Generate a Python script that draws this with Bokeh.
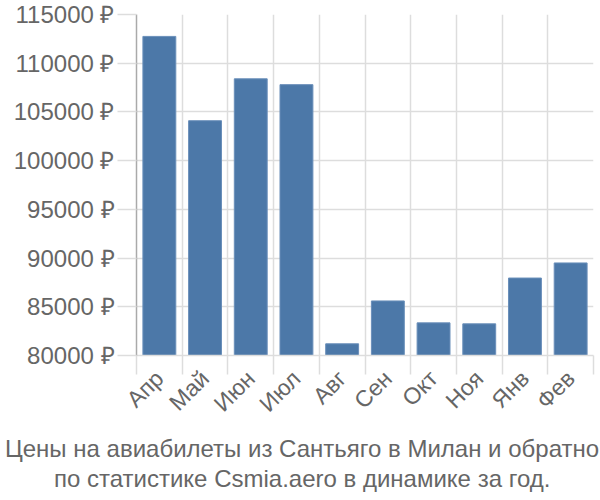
import math
from bokeh.plotting import figure
from bokeh.models import Range1d, FixedTicker, ColumnDataSource, Title
from bokeh.embed import file_html
from bokeh.resources import INLINE

months = ["Апр", "Май", "Июн", "Июл", "Авг", "Сен", "Окт", "Ноя", "Янв", "Фев"]
prices = [112750, 104100, 108400, 107800, 81200, 85600, 83350, 83250, 87950, 89500]
y_ticks = [80000, 85000, 90000, 95000, 100000, 105000, 110000, 115000]
title_lines = ["Цены на авиабилеты из Сантьяго в Милан и обратно",
               "по статистике Csmia.aero в динамике за год."]
# approximate rendered widths (px) of the title lines, used to centre them
title_widths = [591, 493]

FONT = "Liberation Sans"
TXT = "#666666"
GRID = "#dddddd"

W, H = 600, 500
LEFT, RIGHT = 136, 7

n = len(months)
centers = [i + 0.5 for i in range(n)]
bounds = list(range(n + 1))

src = ColumnDataSource(dict(x=centers, top=prices, m=months))

p = figure(width=W, height=H, output_backend="svg", toolbar_location=None,
           x_range=Range1d(0, n), y_range=Range1d(y_ticks[0], y_ticks[-1]),
           min_border_left=LEFT, min_border_right=RIGHT, min_border_top=14,
           min_border_bottom=145)
p.outline_line_color = None
p.background_fill_color = "white"
p.border_fill_color = "white"

p.vbar(x="x", top="top", bottom=y_ticks[0], width=0.72, source=src,
       fill_color="#4c78a8", line_color="#6a8fba", line_width=1)

# grids
p.xgrid.ticker = FixedTicker(ticks=bounds)
p.xgrid.grid_line_color = GRID
p.xgrid.grid_line_width = 1.5
p.ygrid.ticker = FixedTicker(ticks=y_ticks)
p.ygrid.grid_line_color = GRID
p.ygrid.grid_line_width = 1.5

# y axis
ya = p.yaxis[0]
ya.ticker = FixedTicker(ticks=y_ticks)
ya.major_label_overrides = {t: f"{t} ₽" for t in y_ticks}
ya.axis_line_color = "#aaaaaa"
ya.axis_line_width = 1.5
ya.major_tick_line_color = GRID
ya.major_tick_line_width = 1.5
ya.major_tick_out = 19
ya.major_tick_in = 0
ya.minor_tick_line_color = None
ya.major_label_standoff = 3
ya.major_label_text_font = FONT
ya.major_label_text_font_size = "24px"
ya.major_label_text_color = TXT

# x axis
xa = p.xaxis[0]
xa.ticker = FixedTicker(ticks=centers, minor_ticks=bounds)
xa.major_label_overrides = {c: m for c, m in zip(centers, months)}
xa.major_label_orientation = math.pi / 4
xa.axis_line_color = GRID
xa.axis_line_width = 1.5
xa.major_tick_line_color = None
xa.major_tick_out = 0
xa.minor_tick_line_color = GRID
xa.minor_tick_line_width = 1.5
xa.minor_tick_out = 19
xa.minor_tick_in = 0
xa.major_label_standoff = 0
xa.major_label_text_font = FONT
xa.major_label_text_font_size = "23px"
xa.major_label_text_color = TXT

# centre titles on the canvas (align left with a negative offset)
for i, (line, tw) in enumerate(zip(title_lines, title_widths)):
    off = (W - tw) / 2 - LEFT
    p.add_layout(Title(text=line, align="left", offset=off, text_font=FONT,
                       text_font_size="24px", text_font_style="normal",
                       text_color=TXT, standoff=-6 if i else 8), "below")

open("out.html", "w").write(file_html(p, INLINE))
